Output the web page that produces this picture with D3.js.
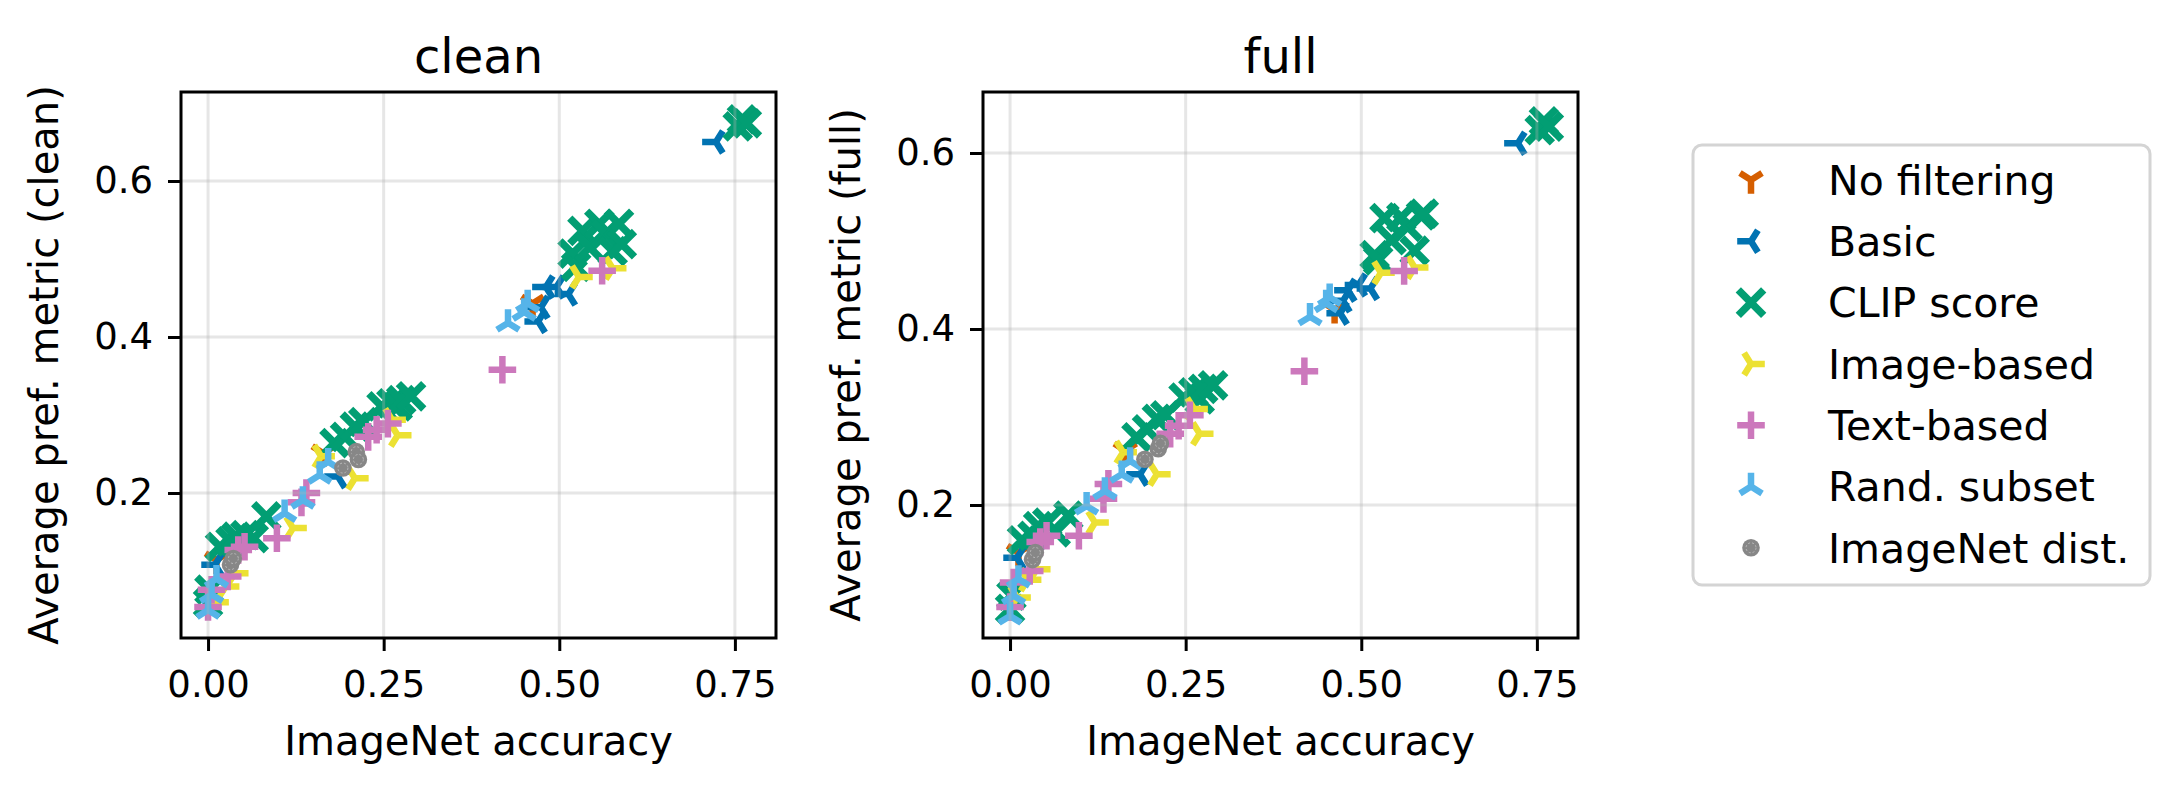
<!DOCTYPE html>
<html>
<head>
<meta charset="utf-8">
<script src="https://cdn.jsdelivr.net/npm/d3@7"></script>
<style>
  body { margin: 0; background: #fff; }
  svg { font-family: "DejaVu Sans", sans-serif; }
</style>
</head>
<body>
<svg id="chart" width="2179" height="795"></svg>
<script>
// ImageNet accuracy (x) and average pref. metric on clean / full (y), per filtering method
const noFiltAcc   = [0.012, 0.164, 0.462];
const noFiltClean = [0.114, 0.251, 0.443];
const noFiltFull  = [0.146, 0.262, 0.422];

const basicAcc   = [0.010, 0.185, 0.470, 0.474, 0.481, 0.496, 0.513, 0.723];
const basicClean = [0.108, 0.221, 0.420, 0.438, 0.464, 0.464, 0.455, 0.650];
const basicFull  = [0.140, 0.235, 0.418, 0.432, 0.444, 0.450, 0.446, 0.611];

const clipAcc   = [0.000, 0.002, 0.017, 0.032, 0.040, 0.053, 0.065, 0.083,
                   0.180, 0.195, 0.209, 0.221, 0.247, 0.261, 0.270, 0.275, 0.289,
                   0.519, 0.524, 0.533, 0.543, 0.557, 0.566, 0.576, 0.585, 0.589,
                   0.754, 0.760, 0.767];
const clipClean = [0.059, 0.076, 0.131, 0.138, 0.144, 0.146, 0.142, 0.170,
                   0.264, 0.272, 0.285, 0.291, 0.311, 0.315, 0.311, 0.319, 0.324,
                   0.507, 0.490, 0.536, 0.515, 0.545, 0.532, 0.510, 0.545, 0.519,
                   0.670, 0.679, 0.674];
const clipFull  = [0.082, 0.097, 0.160, 0.165, 0.176, 0.180, 0.169, 0.188,
                   0.277, 0.286, 0.298, 0.302, 0.322, 0.328, 0.320, 0.332, 0.336,
                   0.484, 0.478, 0.526, 0.501, 0.527, 0.516, 0.489, 0.529, 0.531,
                   0.626, 0.636, 0.630];

const imageAcc   = [0.010, 0.025, 0.038, 0.121, 0.161, 0.209, 0.262, 0.270, 0.528, 0.576];
const imageClean = [0.060, 0.080, 0.097, 0.155, 0.247, 0.219, 0.294, 0.274, 0.477, 0.488];
const imageFull  = [0.095, 0.115, 0.127, 0.180, 0.260, 0.235, 0.309, 0.281, 0.464, 0.470];

const textAcc   = [0.000, 0.005, 0.028, 0.043, 0.052, 0.098, 0.133, 0.140, 0.228, 0.240, 0.256, 0.419, 0.561];
const textClean = [0.054, 0.076, 0.093, 0.127, 0.131, 0.142, 0.188, 0.200, 0.272, 0.281, 0.289, 0.358, 0.485];
const textFull  = [0.084, 0.112, 0.125, 0.158, 0.165, 0.165, 0.207, 0.224, 0.281, 0.290, 0.302, 0.352, 0.466];

const randAcc   = [0.000, 0.005, 0.012, 0.109, 0.135, 0.159, 0.171, 0.427, 0.450, 0.455];
const randClean = [0.050, 0.070, 0.090, 0.174, 0.191, 0.223, 0.240, 0.418, 0.432, 0.443];
const randFull  = [0.074, 0.097, 0.116, 0.199, 0.216, 0.235, 0.250, 0.414, 0.429, 0.436];

const inetAcc   = [0.032, 0.036, 0.192, 0.211, 0.214];
const inetClean = [0.108, 0.116, 0.232, 0.253, 0.243];
const inetFull  = [0.138, 0.146, 0.252, 0.264, 0.270];

const xTicks = [0, 0.25, 0.5, 0.75];
const yTicks = [0.2, 0.4, 0.6];

const series = [
  { name: 'No filtering',   color: '#d55e00', marker: 'tri_down',  acc: noFiltAcc, clean: noFiltClean, full: noFiltFull },
  { name: 'Basic',          color: '#0173b2', marker: 'tri_left',  acc: basicAcc,  clean: basicClean,  full: basicFull },
  { name: 'CLIP score',     color: '#029e73', marker: 'x',         acc: clipAcc,   clean: clipClean,   full: clipFull },
  { name: 'Image-based',    color: '#ece133', marker: 'tri_right', acc: imageAcc,  clean: imageClean,  full: imageFull },
  { name: 'Text-based',     color: '#cc78bc', marker: 'plus',      acc: textAcc,   clean: textClean,   full: textFull },
  { name: 'Rand. subset',   color: '#56b4e9', marker: 'tri_up',    acc: randAcc,   clean: randClean,   full: randFull },
  { name: 'ImageNet dist.', color: '#878787', marker: 'circle',    acc: inetAcc,   clean: inetClean,   full: inetFull }
];

const panels = [
  { key: 'clean', title: 'clean', label: 'Average pref. metric (clean)', left: 181, right: 776, yDomain: [0.0141, 0.7141] },
  { key: 'full',  title: 'full',  label: 'Average pref. metric (full)',  left: 983, right: 1578, yDomain: [0.0489, 0.6693] }
];
const plotTop = 92, plotBottom = 638;
const xDomain = [-0.0385, 0.8085];

const svg = d3.select('#chart');

// matplotlib-like marker shapes, h = half size
function markerPath(type, h) {
  const p = d3.path();
  const arms = {
    tri_down:  [[0, 1], [0.8, -0.5], [-0.8, -0.5]],
    tri_up:    [[0, -1], [0.8, 0.5], [-0.8, 0.5]],
    tri_left:  [[-1, 0], [0.5, -0.8], [0.5, 0.8]],
    tri_right: [[1, 0], [-0.5, -0.8], [-0.5, 0.8]]
  };
  if (arms[type]) {
    arms[type].forEach(a => { p.moveTo(0, 0); p.lineTo(a[0] * h, a[1] * h); });
  } else if (type === 'x') {
    const d = h * 0.92;
    p.moveTo(-d, -d); p.lineTo(d, d);
    p.moveTo(-d, d); p.lineTo(d, -d);
  } else if (type === 'plus') {
    p.moveTo(-h, 0); p.lineTo(h, 0);
    p.moveTo(0, -h); p.lineTo(0, h);
  }
  return p.toString();
}

function drawMarker(g, s, cx, cy) {
  if (s.marker === 'circle') {
    g.append('circle').attr('cx', cx).attr('cy', cy).attr('r', 8.8).attr('fill', s.color);
    g.append('circle').attr('cx', cx).attr('cy', cy).attr('r', 5)
      .attr('fill', 'none').attr('stroke', '#b8b8b8').attr('stroke-width', 1)
      .attr('stroke-dasharray', '2,2');
  } else {
    g.append('path')
      .attr('transform', `translate(${cx},${cy})`)
      .attr('d', markerPath(s.marker, 13.8))
      .attr('fill', 'none')
      .attr('stroke', s.color)
      .attr('stroke-width', s.marker === 'x' ? 7.5 : 6.5)
      .attr('stroke-linecap', 'butt');
  }
}

panels.forEach((pn, i) => {
  const x = d3.scaleLinear().domain(xDomain).range([pn.left, pn.right]);
  const y = d3.scaleLinear().domain(pn.yDomain).range([plotBottom, plotTop]);
  const g = svg.append('g');

  g.append('clipPath').attr('id', 'clip' + i)
    .append('rect').attr('x', pn.left).attr('y', plotTop)
    .attr('width', pn.right - pn.left).attr('height', plotBottom - plotTop);

  const marks = g.append('g').attr('clip-path', `url(#clip${i})`);
  series.forEach(s => {
    const sg = marks.append('g');
    s.acc.forEach((a, j) => drawMarker(sg, s, x(a), y(s[pn.key][j])));
  });

  // grid sits above the markers, as in the source figure
  const grid = g.append('g').attr('stroke', '#b0b0b0').attr('stroke-opacity', 0.32).attr('stroke-width', 3);
  grid.selectAll('.gx').data(xTicks).join('line')
    .attr('x1', d => x(d)).attr('x2', d => x(d)).attr('y1', plotTop).attr('y2', plotBottom);
  grid.selectAll('.gy').data(yTicks).join('line')
    .attr('x1', pn.left).attr('x2', pn.right).attr('y1', d => y(d)).attr('y2', d => y(d));

  const xAxis = g.append('g').attr('transform', `translate(0,${plotBottom})`)
    .call(d3.axisBottom(x).tickValues(xTicks).tickFormat(d3.format('.2f')).tickSize(13).tickPadding(20));
  const yAxis = g.append('g').attr('transform', `translate(${pn.left},0)`)
    .call(d3.axisLeft(y).tickValues(yTicks).tickFormat(d3.format('.1f')).tickSize(13).tickPadding(15));
  [xAxis, yAxis].forEach(ax => {
    ax.select('.domain').remove();
    ax.selectAll('line').attr('stroke', '#000').attr('stroke-width', 3);
    ax.selectAll('text').attr('font-size', 37).attr('fill', '#000')
      .attr('font-family', '"DejaVu Sans", sans-serif');
  });

  g.append('rect').attr('x', pn.left).attr('y', plotTop)
    .attr('width', pn.right - pn.left).attr('height', plotBottom - plotTop)
    .attr('fill', 'none').attr('stroke', '#000').attr('stroke-width', 3);

  const cx = (pn.left + pn.right) / 2;
  g.append('text').attr('x', cx).attr('y', 73).attr('text-anchor', 'middle')
    .attr('font-size', 48).text(pn.title);
  g.append('text').attr('x', cx).attr('y', 755).attr('text-anchor', 'middle')
    .attr('font-size', 40).text('ImageNet accuracy');
  const ly = (plotTop + plotBottom) / 2;
  const lx = pn.left - 123;
  g.append('text').attr('transform', `translate(${lx},${ly}) rotate(-90)`)
    .attr('text-anchor', 'middle').attr('font-size', 40).text(pn.label);
});

// legend
const leg = svg.append('g');
leg.append('rect').attr('x', 1693).attr('y', 145).attr('width', 457).attr('height', 440)
  .attr('rx', 9).attr('fill', '#fff').attr('stroke', '#d4d4d4').attr('stroke-width', 3);
series.forEach((s, i) => {
  const cy = 180 + i * 61.3;
  drawMarker(leg, s, 1751, cy);
  leg.append('text').attr('x', 1828).attr('y', cy).attr('dy', '0.36em')
    .attr('font-size', 41).text(s.name);
});
</script>
</body>
</html>
